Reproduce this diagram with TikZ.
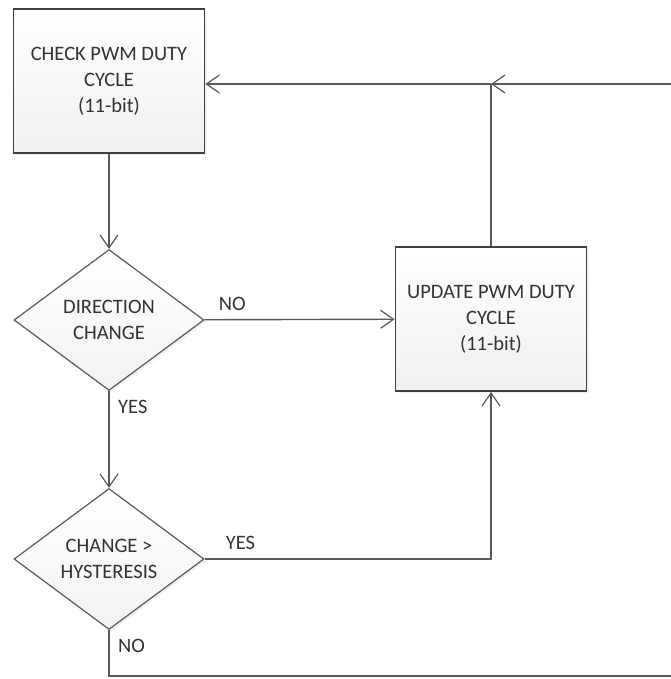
\documentclass[tikz,border=0pt]{standalone}
\usepackage{fontspec}
\setmainfont{Carlito}
\usepackage{tikz}
\usetikzlibrary{arrows.meta}
\usetikzlibrary{shapes, shadows}
\usetikzlibrary{positioning}
\definecolor{linegray}{HTML}{5A5A5A}
\definecolor{boxgray}{HTML}{404040}
\definecolor{textgray}{HTML}{333333}
\tikzset{
	flow/.style={draw=linegray, line width=1.4pt, -{Straight Barb[length=13pt, width=18pt, line width=1.2pt]}},
	wire/.style={draw=linegray, line width=1.4pt},
	process/.style={rectangle, draw=boxgray, line width=1.8pt, top color=white, bottom color=gray!12,
		minimum width=191pt, minimum height=144pt, align=center, text=textgray,
		drop shadow={opacity=0.12, shadow xshift=2pt, shadow yshift=-2pt}},
	decision/.style={diamond, draw=linegray, line width=1.2pt, top color=white, bottom color=gray!10,
		minimum width=190pt, minimum height=141pt, inner sep=0pt, align=center, text=textgray,
		drop shadow={opacity=0.12, shadow xshift=2pt, shadow yshift=-2pt}},
	answer/.style={text=textgray, inner sep=0pt}
}

\begin{document}
\begin{tikzpicture}[x=1pt, y=-1pt, font=\fontsize{20.5}{26}\selectfont]
\useasboundingbox (0, 0) rectangle (670, 679);

\node[process] (check) at (109, 81) {CHECK PWM DUTY\\CYCLE\\(11-bit)};
\node[decision] (dir) at (109, 320) {DIRECTION\\CHANGE};
\node[process] (update) at (491, 319) {UPDATE PWM DUTY\\CYCLE\\(11-bit)};
\node[decision] (hyst) at (109, 559) {CHANGE >\\HYSTERESIS};

\coordinate (join) at (update.north |- 0, 84);
\coordinate (loopend) at (join -| 680, 0);
\coordinate (botleft) at (109, 676);
\coordinate (botright) at (680, 676);
\coordinate (yesturn) at (update.south |- hyst.east);

\node[answer, anchor=south west] (no1) at ([xshift=14pt, yshift=9pt]dir.east) {NO};
\node[answer, anchor=north west] (yes1) at ([xshift=9pt, yshift=-9pt]dir.south) {YES};
\node[answer, anchor=south west] (yes2) at ([xshift=21pt, yshift=9pt]hyst.east) {YES};
\node[answer, anchor=north west] (no2) at ([xshift=9pt, yshift=-9pt]hyst.south) {NO};

\draw[flow] (check) -- (dir);
\draw[flow] (dir) -- (update);
\draw[flow] (dir) -- (hyst);
\draw[flow] (hyst.east) -- (yesturn) -- (update.south);
\draw[wire] (update.north) -- (join);
\draw[flow] (loopend) -- (join);
\draw[flow] (join) -- (check.east |- join);
\draw[wire] (hyst.south) -- (botleft) -- (botright);
\end{tikzpicture}
\end{document}
